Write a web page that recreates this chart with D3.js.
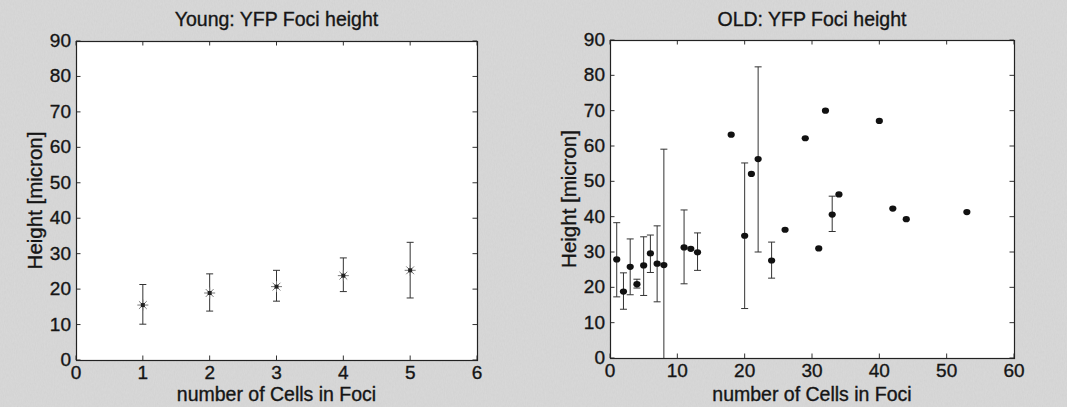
<!DOCTYPE html>
<html>
<head>
<meta charset="utf-8">
<script src="https://cdnjs.cloudflare.com/ajax/libs/d3/7.8.5/d3.min.js"></script>
<style>
  body { margin: 0; background: #d6d6d6; }
  svg { display: block; }
  text { font-family: "Liberation Sans", Arial, sans-serif; fill: #151515; stroke: #151515; stroke-width: 0.35px; }
</style>
</head>
<body>
<svg width="1067" height="407"></svg>
<script>
// Young cells: mean height with error bars
var youngCells  = [1, 2, 3, 4, 5];
var youngHeight = [15.5, 18.9, 20.7, 23.8, 25.3];
var youngLow    = [10.1, 13.8, 16.6, 19.3, 17.5];
var youngHigh   = [21.3, 24.3, 25.3, 28.8, 33.2];

// Old cells (null = no error bar drawn)
var oldCells  = [1, 2, 3, 4, 5, 6, 7, 8, 11, 12, 13, 18, 20, 21, 22, 24, 26, 29, 31, 32, 33, 34, 40, 42, 44, 53];
var oldHeight = [27.9, 18.8, 25.8, 20.9, 26.2, 29.6, 26.7, 26.3, 31.3, 30.9, 29.9, 63.2, 34.6, 52.1, 56.3, 27.6, 36.3, 62.2, 31.0, 70.0, 40.6, 46.3, 67.1, 42.3, 39.3, 41.3];
var oldLow    = [17.3, 13.8, 17.9, 19.8, 17.7, 24.2, 15.9, -6.5, 21.0, null, 24.8, null, 14.0, null, 30.0, 22.6, null, null, null, null, 35.8, null, null, null, null, null];
var oldHigh   = [38.3, 24.1, 33.7, 22.3, 34.3, 34.8, 37.4, 59.1, 41.9, null, 35.4, null, 55.2, null, 82.4, 32.8, null, null, null, null, 45.8, null, null, null, null, null];

var yTicks = d3.range(0, 91, 10);
var xTicksYoung = d3.range(0, 7, 1);
var xTicksOld = d3.range(0, 61, 10);

var svg = d3.select("svg");

// scanned paper look
var flt = svg.append("defs").append("filter").attr("id", "grain")
  .attr("x", 0).attr("y", 0).attr("width", "100%").attr("height", "100%");
flt.append("feTurbulence").attr("type", "fractalNoise").attr("baseFrequency", "0.9 0.35")
  .attr("numOctaves", 2).attr("seed", 3).attr("result", "n");
flt.append("feColorMatrix").attr("type", "matrix")
  .attr("values", "0 0 0 0 0.5  0 0 0 0 0.5  0 0 0 0 0.5  0.55 0 0 0 -0.12");
svg.append("rect").attr("width", 1067).attr("height", 407).attr("fill", "#d8d8d8");
svg.append("rect").attr("width", 1067).attr("height", 407).attr("filter", "url(#grain)").attr("opacity", 0.5);

function drawPanel(opt) {
  var x = d3.scaleLinear().domain(opt.xDomain).range([opt.left, opt.right]);
  var y = d3.scaleLinear().domain([0, 90]).range([opt.bottom, opt.top]);
  var g = svg.append("g");
  var tl = 4.5;

  g.append("rect")
    .attr("x", opt.left).attr("y", opt.top)
    .attr("width", opt.right - opt.left).attr("height", opt.bottom - opt.top)
    .attr("fill", "#fff");

  var clipId = "clip" + opt.id;
  g.append("clipPath").attr("id", clipId).append("rect")
    .attr("x", opt.left).attr("y", opt.top)
    .attr("width", opt.right - opt.left).attr("height", opt.bottom - opt.top);

  // ticks inside on all sides
  var ticks = g.append("g").attr("stroke", "#333").attr("stroke-width", 1);
  opt.xTicks.forEach(function(t) {
    ticks.append("line").attr("x1", x(t)).attr("x2", x(t)).attr("y1", opt.bottom).attr("y2", opt.bottom - tl);
    ticks.append("line").attr("x1", x(t)).attr("x2", x(t)).attr("y1", opt.top).attr("y2", opt.top + tl);
  });
  yTicks.forEach(function(t) {
    ticks.append("line").attr("x1", opt.left).attr("x2", opt.left + tl).attr("y1", y(t)).attr("y2", y(t));
    ticks.append("line").attr("x1", opt.right).attr("x2", opt.right - tl).attr("y1", y(t)).attr("y2", y(t));
  });

  g.append("rect")
    .attr("x", opt.left + 0.5).attr("y", opt.top + 0.5)
    .attr("width", opt.right - opt.left).attr("height", opt.bottom - opt.top)
    .attr("fill", "none").attr("stroke", "#222").attr("stroke-width", 1.2);

  // tick labels
  g.selectAll(".xl").data(opt.xTicks).enter().append("text")
    .attr("x", function(d) { return x(d); })
    .attr("y", opt.bottom + 19)
    .attr("text-anchor", "middle")
    .style("font-size", "19px")
    .text(function(d) { return d; });
  g.selectAll(".yl").data(yTicks).enter().append("text")
    .attr("x", opt.left - 5)
    .attr("y", function(d) { return y(d) + 6; })
    .attr("text-anchor", "end")
    .style("font-size", "19px")
    .text(function(d) { return d; });

  // labels
  var cx = (opt.left + opt.right) / 2, cy = (opt.top + opt.bottom) / 2;
  g.append("text").attr("x", cx).attr("y", 26)
    .attr("text-anchor", "middle").style("font-size", "19.5px").text(opt.title);
  g.append("text").attr("x", cx).attr("y", 401)
    .attr("text-anchor", "middle").style("font-size", "19.5px").text("number of Cells in Foci");
  g.append("text")
    .attr("transform", "translate(" + (opt.left - 34) + "," + cy + ") rotate(-90)")
    .attr("text-anchor", "middle").style("font-size", "20.5px").text("Height [micron]");

  // error bars
  var eb = g.append("g").attr("clip-path", "url(#" + clipId + ")")
    .attr("stroke", "#333").attr("stroke-width", 1);
  opt.cells.forEach(function(c, i) {
    if (opt.low[i] === null) return;
    var px = x(c), y0 = y(opt.low[i]), y1 = y(opt.high[i]), cap = 3.5;
    eb.append("line").attr("x1", px).attr("x2", px).attr("y1", y0).attr("y2", y1);
    eb.append("line").attr("x1", px - cap).attr("x2", px + cap).attr("y1", y0).attr("y2", y0);
    eb.append("line").attr("x1", px - cap).attr("x2", px + cap).attr("y1", y1).attr("y2", y1);
  });

  // markers
  var mk = g.append("g");
  opt.cells.forEach(function(c, i) {
    var px = x(c), py = y(opt.heights[i]);
    if (opt.marker === "star") {
      var r = 5.5, d = r * 0.707;
      var p = "M" + (px - r) + "," + py + "h" + 2 * r +
        "M" + px + "," + (py - r) + "v" + 2 * r +
        "M" + (px - d) + "," + (py - d) + "l" + 2 * d + "," + 2 * d +
        "M" + (px - d) + "," + (py + d) + "l" + 2 * d + "," + (-2 * d);
      mk.append("path").attr("d", p).attr("stroke", "#777").attr("stroke-width", 1).attr("fill", "none");
      mk.append("rect").attr("x", px - 2).attr("y", py - 2).attr("width", 4).attr("height", 4).attr("fill", "#222");
    } else {
      mk.append("ellipse").attr("cx", px).attr("cy", py).attr("rx", 3.6).attr("ry", 3.1).attr("fill", "#111");
    }
  });
}

drawPanel({
  id: "young", title: "Young: YFP Foci height",
  left: 76, right: 477, top: 41, bottom: 360,
  xDomain: [0, 6], xTicks: xTicksYoung,
  cells: youngCells, heights: youngHeight, low: youngLow, high: youngHigh,
  marker: "star"
});

drawPanel({
  id: "old", title: "OLD: YFP Foci height",
  left: 610, right: 1014, top: 40, bottom: 358,
  xDomain: [0, 60], xTicks: xTicksOld,
  cells: oldCells, heights: oldHeight, low: oldLow, high: oldHigh,
  marker: "dot"
});
</script>
</body>
</html>
